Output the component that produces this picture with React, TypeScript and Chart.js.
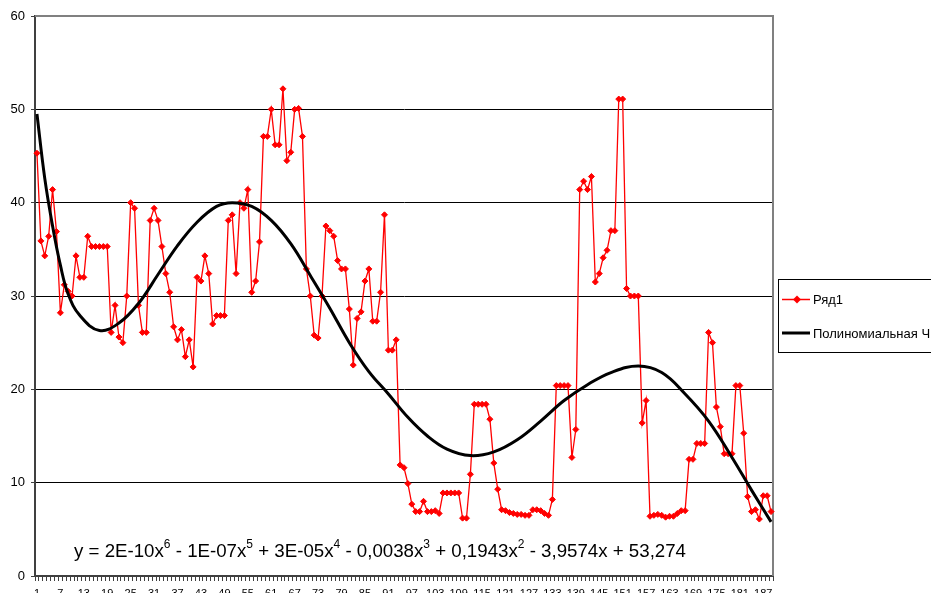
import React, { useEffect, useRef } from "react";
import { Chart, registerables } from "chart.js";

Chart.register(...registerables);

// ---- data ----
const categories: string[] = Array.from({ length: 189 }, (_, i) => String(i + 1));

const seriesValues: number[] = [
  45.3, 35.9, 34.3, 36.4, 41.4, 36.9, 28.2, 31.2, 30.5, 30.0,
  34.3, 32.0, 32.0, 36.4, 35.3, 35.3, 35.3, 35.3, 35.3, 26.1,
  29.0, 25.6, 25.0, 30.0, 40.0, 39.4, 29.0, 26.1, 26.1, 38.1,
  39.4, 38.1, 35.3, 32.4, 30.4, 26.7, 25.3, 26.4, 23.5, 25.3,
  22.4, 32.0, 31.6, 34.3, 32.4, 27.0, 27.9, 27.9, 27.9, 38.1,
  38.7, 32.4, 40.0, 39.4, 41.4, 30.4, 31.6, 35.8, 47.1, 47.1,
  50.0, 46.2, 46.2, 52.2, 44.5, 45.4, 50.0, 50.1, 47.1, 32.9,
  30.0, 25.8, 25.5, 30.0, 37.5, 37.0, 36.4, 33.8, 32.9, 32.9,
  28.6, 22.6, 27.6, 28.3, 31.6, 32.9, 27.3, 27.3, 30.4, 38.7,
  24.2, 24.2, 25.3, 11.9, 11.6, 9.9, 7.7, 6.9, 6.9, 8.0,
  6.9, 6.9, 7.0, 6.7, 8.9, 8.9, 8.9, 8.9, 8.9, 6.2,
  6.2, 10.9, 18.4, 18.4, 18.4, 18.4, 16.8, 12.1, 9.3, 7.1,
  7.0, 6.8, 6.7, 6.6, 6.6, 6.5, 6.5, 7.1, 7.1, 7.0,
  6.7, 6.5, 8.2, 20.4, 20.4, 20.4, 20.4, 12.7, 15.7, 41.4,
  42.3, 41.4, 42.8, 31.5, 32.4, 34.1, 34.9, 37.0, 37.0, 51.1,
  51.1, 30.8, 30.0, 30.0, 30.0, 16.4, 18.8, 6.4, 6.5, 6.6,
  6.5, 6.3, 6.4, 6.4, 6.7, 7.0, 7.0, 12.5, 12.5, 14.2,
  14.2, 14.2, 26.1, 25.0, 18.1, 16.0, 13.1, 13.1, 13.1, 20.4,
  20.4, 15.3, 8.5, 6.9, 7.1, 6.1, 8.6, 8.6, 6.9,
];

// polynomial trend line at these category numbers
const trendPositions: number[] = [
  1, 3, 5, 7, 9, 12, 17, 22, 27, 32,
  37, 42, 47, 51, 56, 61, 66, 71, 76, 81,
  86, 91, 96, 101, 106, 112, 118, 124, 130, 136,
  142, 148, 155, 161, 167, 173, 179, 184, 189,
];
const trendValues: number[] = [
  49.5, 42.6, 37.5, 33.3, 30.2, 27.9, 26.3, 27.1, 29.2, 32.3,
  35.4, 37.9, 39.6, 40.0, 39.6, 38.1, 35.6, 32.2, 28.7, 25.0,
  21.9, 19.5, 17.0, 15.0, 13.6, 12.9, 13.3, 14.6, 16.6, 18.8,
  20.5, 21.8, 22.5, 21.8, 19.5, 16.6, 12.7, 9.2, 5.8,
];

const yMin = 0;
const yMax = 60;
const yStep = 10;
const xLabelEvery = 6;

const seriesName = "Ряд1";
const trendName = "Полиномиальная Ч";

// equation text: [text, isSuperscript]
const equationParts: [string, boolean][] = [
  ["y = 2E-10x", false], ["6", true],
  [" - 1E-07x", false], ["5", true],
  [" + 3E-05x", false], ["4", true],
  [" - 0,0038x", false], ["3", true],
  [" + 0,1943x", false], ["2", true],
  [" - 3,9574x + 53,274", false],
];

const FONT = "'Liberation Sans', Arial, sans-serif";

export default function App() {
  const ref = useRef<HTMLCanvasElement | null>(null);

  useEffect(() => {
    if (!ref.current) return;

    const trendData: (number | null)[] = categories.map(() => null);
    trendPositions.forEach((p, k) => {
      trendData[p - 1] = trendValues[k];
    });

    const framePlugin = {
      id: "frame",
      beforeDatasetsDraw(chart: any) {
        const { ctx, chartArea: a } = chart;
        ctx.save();
        ctx.strokeStyle = "#808080";
        ctx.lineWidth = 2;
        ctx.beginPath();
        ctx.moveTo(a.left, a.top);
        ctx.lineTo(a.right, a.top);
        ctx.lineTo(a.right, a.bottom);
        ctx.stroke();
        ctx.restore();
      },
    };

    const overlayPlugin = {
      id: "overlay",
      afterDraw(chart: any) {
        const { ctx } = chart;
        ctx.save();
        // equation
        let x = 74;
        const base = 557;
        ctx.fillStyle = "#000";
        ctx.textBaseline = "alphabetic";
        ctx.textAlign = "left";
        for (const [t, sup] of equationParts) {
          ctx.font = sup ? `12px ${FONT}` : `18.7px ${FONT}`;
          ctx.fillText(t, x, sup ? base - 9 : base);
          x += ctx.measureText(t).width;
        }

        // legend
        ctx.strokeStyle = "#000";
        ctx.lineWidth = 1;
        ctx.strokeRect(778.5, 279.5, 220, 73);

        ctx.strokeStyle = "#FF0000";
        ctx.lineWidth = 1.5;
        ctx.beginPath();
        ctx.moveTo(782, 299.5);
        ctx.lineTo(810, 299.5);
        ctx.stroke();
        ctx.fillStyle = "#FF0000";
        ctx.beginPath();
        ctx.moveTo(797 - 4, 299.5);
        ctx.lineTo(797, 299.5 - 4);
        ctx.lineTo(797 + 4, 299.5);
        ctx.lineTo(797, 299.5 + 4);
        ctx.closePath();
        ctx.fill();

        ctx.strokeStyle = "#000";
        ctx.lineWidth = 3;
        ctx.beginPath();
        ctx.moveTo(782, 333);
        ctx.lineTo(810, 333);
        ctx.stroke();

        ctx.fillStyle = "#000";
        ctx.font = `13px ${FONT}`;
        ctx.textBaseline = "middle";
        ctx.fillText(seriesName, 813, 300);
        ctx.fillText(trendName, 813, 334);
        ctx.restore();
      },
    };

    const chart = new Chart(ref.current, {
      type: "line",
      data: {
        labels: categories,
        datasets: [
          {
            label: trendName,
            data: trendData,
            borderColor: "#000000",
            borderWidth: 3,
            pointRadius: 0,
            spanGaps: true,
            tension: 0.4,
            fill: false,
            order: 0,
          },
          {
            label: seriesName,
            data: seriesValues,
            borderColor: "#FF0000",
            backgroundColor: "#FF0000",
            borderWidth: 1.3,
            pointStyle: "rectRot",
            pointRadius: 3,
            pointBorderWidth: 1,
            pointBackgroundColor: "#FF0000",
            pointBorderColor: "#FF0000",
            tension: 0,
            fill: false,
            order: 1,
          },
        ],
      },
      options: {
        animation: false,
        responsive: false,
        events: [],
        layout: { padding: { top: 16, right: 158, left: 0, bottom: 0 } },
        plugins: {
          legend: { display: false },
          tooltip: { enabled: false },
          title: { display: false },
        },
        scales: {
          x: {
            type: "category",
            offset: true,
            afterFit(scale: any) {
              scale.height = 17;
            },
            grid: {
              offset: true,
              drawOnChartArea: false,
              drawTicks: true,
              tickLength: 5,
              tickColor: "#404040",
              tickWidth: 1,
            },
            border: { display: true, color: "#404040", width: 2 },
            ticks: {
              autoSkip: false,
              maxRotation: 0,
              minRotation: 0,
              padding: 6,
              color: "#000",
              font: { size: 11, family: FONT },
              callback: (_v: any, i: number) => (i % xLabelEvery === 0 ? categories[i] : ""),
            },
          },
          y: {
            min: yMin,
            max: yMax,
            afterFit(scale: any) {
              scale.width = 35;
            },
            grid: {
              color: "#000000",
              lineWidth: 1,
              drawTicks: true,
              tickLength: 4,
              tickColor: "#404040",
            },
            border: { display: true, color: "#404040", width: 2 },
            ticks: {
              stepSize: yStep,
              padding: 6,
              color: "#000",
              font: { size: 13, family: FONT },
            },
          },
        },
      },
      plugins: [framePlugin, overlayPlugin],
    } as any);

    return () => chart.destroy();
  }, []);

  return (
    <div
      style={{
        position: "fixed",
        left: 0,
        top: 0,
        width: 931,
        height: 593,
        overflow: "hidden",
        background: "#fff",
      }}
    >
      <canvas ref={ref} width={931} height={593} style={{ display: "block" }} />
    </div>
  );
}
